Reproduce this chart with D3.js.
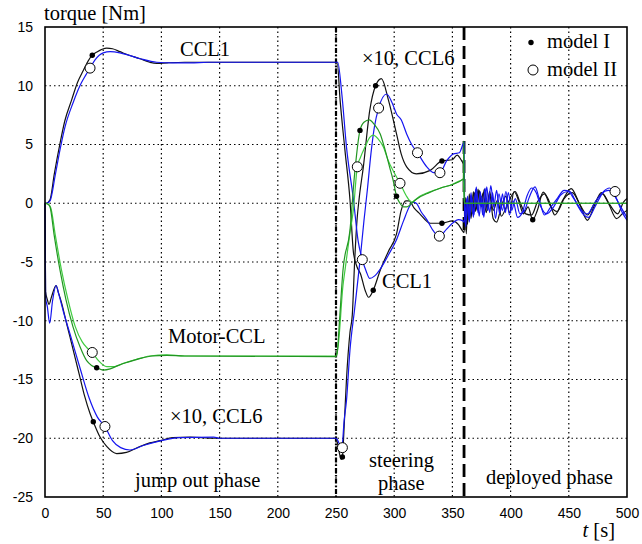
<!DOCTYPE html>
<html>
<head>
<meta charset="utf-8">
<script src="https://cdn.jsdelivr.net/npm/d3@7"></script>
<style>
  body { margin: 0; background: #fff; }
  .tick text { font-family: "Liberation Sans", Arial, sans-serif; font-size: 14px; fill: #000; }
  .lbl { font-family: "Liberation Serif", "Times New Roman", serif; font-size: 20.5px; fill: #000; }
</style>
</head>
<body>
<svg id="chart" width="642" height="544"></svg>
<script>
// tijd-as en koppel-as
const xTicks = [0, 50, 100, 150, 200, 250, 300, 350, 400, 450, 500];
const yTicks = [-25, -20, -15, -10, -5, 0, 5, 10, 15];
const phaseLines = [250, 360]; // overgang jump out -> steering -> deployed

// CCL1, model I (zwart) en model II (blauw)
const ccl1I = [[0,0],[1,0],[4.3,0.3],[8,2.5],[12.9,5.1],[17,7],[22.9,8.8],[28,10.3],[32.9,11.3],[37,12.1],[40.6,12.6],[45,12.9],[53,13.2],[58,13.15],[64.4,12.9],[72,12.6],[81.6,12.3],[90,12.0],[96,11.9],[105,11.95],[120,12.0],[250,12.0],
  [251,12],[253.5,8.8],[257.7,4.5],[262,0.3],[265,-4.2],[268,-5.4],[271,-6.0],[275,-7.4],[278,-8.0],[282,-7.4],[288,-5.7],[295,-4.1],[302,-2.6],[306,-0.6],[310,0.2],[313,0.2],[317,-0.4],[322,-0.9],[331,-1.7],[341,-1.7],[350,-1.5],[355,-1.8],[359,-2.4],
  [360,-2.5],[361,-1.0],[362,-2.6],[363,0.3],[364.5,-1.2],[366,0.6],[367.5,-0.9],[369,0.9],[371,-0.5],[373,1.1],[375,-0.3],[377.5,1.2],[380,-0.6],[382,0.8],[385,-1.3],[388,-1.6],[392,-0.3],[396,0.6],[399,-0.8],[403,1.0],[407,0.2],[411,-0.9],[415,-0.3],[419,-1.4],[423,-0.6],[428,0.95],[433,0.2],[438,-1.0],[445,0.3],[452,1.25],[459,0.0],[466,-1.45],[472,-0.2],[478,0.9],[484,0.0],[491,-1.3],[496,-0.9],[500,-0.6]];
const ccl1II = [[0,0],[1.5,0],[4.3,0.2],[9,2.5],[13,4.6],[17.2,6.5],[24.3,8.6],[30,10.0],[35,10.9],[38.7,11.5],[43,12.2],[50,12.8],[56,12.9],[64.4,12.8],[72,12.6],[82,12.3],[96,12.0],[110,11.95],[125,11.95],[140,12.0],[250,12.0],
  [251.5,12.0],[255,9.3],[259,4.8],[265,0.3],[269,-3.2],[272.6,-4.8],[276,-5.8],[279,-6.4],[283,-6.2],[288,-5.6],[295,-4.4],[302,-3.1],[308,-1.5],[313,-0.3],[316,0.1],[319,0.0],[323,-0.7],[328,-1.4],[334,-2.4],[339,-2.8],[345,-2.2],[350,-1.7],[355,-1.4],[359,-1.5],
  [360,-1.6],[361,-0.8],[362.5,0.4],[364,-1.4],[366,0.9],[368,-1.2],[370,1.2],[372,-0.8],[374,1.0],[376,-1.0],[378,1.3],[380.5,-0.6],[383,1.5],[385.5,-0.3],[388,1.1],[390.5,-0.9],[393,0.8],[395.5,-0.8],[398,0.9],[401,-0.6],[404,0.4],[408,-0.9],[412,-0.6],[416,0.5],[421,1.4],[425,0.2],[429,-1.0],[434,-0.4],[440,0.4],[446,1.1],[451,1.0],[457,-0.1],[463,-1.0],[467,-1.2],[473,-0.2],[480,1.0],[485,1.3],[490,0.6],[496,-0.8],[500,-1.45]];

// x10, CCL6
const ccl6I = [[0,0],[0.5,-7.5],[2,-8.2],[3.5,-8.6],[5.5,-8.0],[9.5,-7.0],[11.5,-7.6],[14.3,-8.5],[18,-10],[21.5,-11.4],[26,-13.2],[30,-14.8],[34,-16.4],[38.7,-17.9],[41.5,-18.6],[47.3,-19.9],[53,-20.7],[61.6,-21.3],[70,-21.2],[81.5,-20.7],[90,-20.4],[98.8,-20.2],[110,-19.95],[125,-19.9],[145,-20.0],[250,-20.0],
  [251,-20.3],[253,-21.3],[254.5,-21.8],[255.5,-21.6],[257,-19],[259,-15],[262,-11],[264,-9.5],[266,-5],[268,-1.5],[270,0.5],[273.5,3.1],[279,7.9],[284,10.0],[289,10.6],[295,8.8],[302,5.9],[306,4.2],[310.7,3.1],[319,2.5],[331,2.8],[341,3.6],[350,3.7],[354,4.1],[358,3.6],
  [360,3.2],[360.5,-2.0],[361.5,0.5],[363,-1.8],[364.5,0.8],[366,-1.3],[368,1.0],[370,-0.7],[372,1.2],[374,-0.2],[376.5,0.9],[379,-0.8],[382,1.0],[385,-0.6],[389,0.3],[392,-1.1],[396,-0.4],[400,0.5],[404,1.0],[408,0.1],[413,-0.9],[418,-1.0],[423,0.1],[429,0.8],[434,-0.2],[440,-0.7],[446,0.4],[453,0.9],[460,-0.2],[466,-1.0],[472,0.0],[479,0.8],[485,-0.1],[492,-0.9],[497,0.1],[500,0.4]];
const ccl6II = [[0,0],[0.5,-8],[2,-8.8],[4,-10.2],[6.5,-8.3],[9.5,-7.0],[12,-7.8],[16,-9.3],[22,-11.3],[30,-14.0],[38,-16.6],[45,-18.2],[51.5,-19.0],[58,-20.2],[65,-20.8],[73,-21.0],[85,-20.6],[100,-20.2],[115,-19.95],[145,-19.9],[150,-20],[250,-20],
  [251,-20.1],[253,-20.5],[255,-20.8],[257,-18.5],[259,-16.8],[262,-12.5],[266,-9],[270.6,-4.9],[274,-1.5],[277,1.2],[280,4.2],[283,6.5],[286.6,8.1],[293.5,9.3],[298,8.6],[302,7.6],[306,7.1],[310.7,5.9],[315,5],[320,4.3],[328,3.1],[334,2.6],[339.3,2.6],[345,3.6],[351,4.2],[356,4.3],[359,5.0],
  [360,5.2],[360.5,-0.5],[361.5,-2.0],[363,0.6],[364.5,-1.6],[366.5,0.5],[368.5,-1.0],[370.5,1.4],[373,-1.1],[375,0.6],[377,-1.2],[379.5,1.4],[382,-0.8],[384.5,0.9],[387,-1.3],[390,0.8],[393,-0.6],[396,1.0],[399,-1.0],[402,0.2],[406,-1.2],[410,-0.8],[414,0.6],[418,1.3],[422,0.9],[426,-0.3],[431,-0.9],[437,-0.3],[443,0.7],[449,1.0],[455,0.3],[461,-0.6],[466,-0.9],[472,0.0],[478,0.8],[484,1.1],[489,0.7],[494,-0.2],[500,-1.2]];

// Motor-CCL
const motorI = [[0,0],[3,-0.1],[4.3,-0.3],[8,-2.8],[12.9,-5.7],[18,-8.2],[24,-10.5],[30,-12.2],[35.8,-13.4],[40,-13.8],[44.4,-14.0],[50,-14.2],[56,-14.1],[63,-13.8],[72,-13.5],[82,-13.2],[92,-13.0],[104.5,-12.95],[120,-13.0],[250,-13.05],
  [251,-12.8],[253,-10],[256,-5.7],[262,-2.3],[266,2.5],[270.6,6.2],[274,6.9],[278.6,7.1],[283,6.7],[288,5.9],[292,4.6],[296,3.1],[299,2.0],[302,0.6],[305,0.0],[308,-0.3],[311,-0.3],[315,0.0],[320,0.4],[330,0.9],[340,1.3],[350,1.6],[359.4,2.1],[359.8,5.3],[360.3,0],[500,0]];
const motorII = [[0,0],[3,-0.1],[5,-0.4],[9,-2.8],[14,-5.6],[20,-8.3],[26,-10.5],[32,-11.8],[36,-12.3],[40.6,-12.7],[46,-13.4],[53,-13.9],[60,-13.9],[68,-13.6],[78,-13.3],[90,-13.0],[104.5,-12.9],[120,-13.0],[250,-13.0],
  [252,-12],[256,-7],[258,-5.5],[262,-2.5],[265,-0.5],[268.3,3.1],[271,3.9],[275,4.8],[279,5.6],[282,5.8],[286,5.5],[290.6,4.8],[295,3.6],[300,2.6],[305,1.7],[310,0.7],[315,0.1],[318,0.3],[322,0.6],[330,0.95],[340,1.3],[350,1.6],[359.4,2.0],[360.3,0],[500,0]];

// markers: model I (gevuld) en model II (open)
const markI = [[40.6,12.6],[44.4,-14.0],[41.5,-18.6],[255.5,-21.6],[270.6,6.2],[284,10.0],[302,0.6],[282,-7.4],[341,-1.7],[341,3.6],[419,-1.4]];
const markII = [[38.7,11.5],[40.6,-12.7],[51.5,-19.0],[255.5,-20.8],[268.3,3.1],[286.6,8.1],[272.6,-4.8],[305,1.7],[320,4.3],[338.8,-2.8],[339.3,2.6],[489.7,1.0]];

const margin = { top: 27, left: 45, right: 15, bottom: 47 };
const width = 642 - margin.left - margin.right;
const height = 544 - margin.top - margin.bottom;

const svg = d3.select('#chart');
const g = svg.append('g').attr('transform', `translate(${margin.left},${margin.top})`);

const x = d3.scaleLinear().domain([0, 500]).range([0, width]);
const y = d3.scaleLinear().domain([-25, 15]).range([height, 0]);

// grid (gestippeld)
g.append('g').selectAll('line').data(xTicks.slice(1, -1)).join('line')
  .attr('x1', d => x(d)).attr('x2', d => x(d)).attr('y1', 0).attr('y2', height)
  .attr('stroke', '#000').attr('stroke-width', 1.2).attr('stroke-dasharray', '1.5,3');
g.append('g').selectAll('line').data(yTicks.slice(1, -1)).join('line')
  .attr('y1', d => y(d)).attr('y2', d => y(d)).attr('x1', 0).attr('x2', width)
  .attr('stroke', '#000').attr('stroke-width', 1.2).attr('stroke-dasharray', '1.5,3');

// fase-lijnen
g.append('line').attr('x1', x(phaseLines[0])).attr('x2', x(phaseLines[0])).attr('y1', 0).attr('y2', height)
  .attr('stroke', '#000').attr('stroke-width', 2.2).attr('stroke-dasharray', '5,2,1.5,2');
g.append('line').attr('x1', x(phaseLines[1])).attr('x2', x(phaseLines[1])).attr('y1', 0).attr('y2', height)
  .attr('stroke', '#000').attr('stroke-width', 2.8).attr('stroke-dasharray', '13,6');

// curves
const line = d3.line().x(d => x(d[0])).y(d => y(d[1])).curve(d3.curveMonotoneX);
const series = [
  { data: ccl1I, color: '#111' }, { data: ccl6I, color: '#111' },
  { data: ccl1II, color: '#1515f0' }, { data: ccl6II, color: '#1515f0' },
  { data: motorII, color: '#40cc40' }, { data: motorI, color: '#229622' }
];
g.append('g').selectAll('path').data(series).join('path')
  .attr('d', d => line(d.data)).attr('fill', 'none')
  .attr('stroke', d => d.color).attr('stroke-width', 1.2);

// markers
g.append('g').selectAll('circle').data(markII).join('circle')
  .attr('cx', d => x(d[0])).attr('cy', d => y(d[1])).attr('r', 5)
  .attr('fill', '#fff').attr('stroke', '#000').attr('stroke-width', 1);
g.append('g').selectAll('circle').data(markI).join('circle')
  .attr('cx', d => x(d[0])).attr('cy', d => y(d[1])).attr('r', 2.7).attr('fill', '#000');

// assen
g.append('g').attr('transform', `translate(0,${height})`)
  .call(d3.axisBottom(x).tickValues(xTicks).tickSize(0).tickPadding(11).tickFormat(d => String(d)))
  .call(a => a.select('.domain').remove());
g.append('g')
  .call(d3.axisLeft(y).tickValues(yTicks).tickSize(0).tickPadding(12).tickFormat(d => String(d)))
  .call(a => a.select('.domain').remove());
g.append('rect').attr('width', width).attr('height', height)
  .attr('fill', 'none').attr('stroke', '#000').attr('stroke-width', 1.6);

// teksten
const labels = [
  { t: 'torque [Nm]', x: 44, y: 20 },
  { t: 'CCL1', x: 180, y: 56 },
  { t: '×10, CCL6', x: 362, y: 65 },
  { t: 'Motor-CCL', x: 168, y: 343 },
  { t: '×10, CCL6', x: 170, y: 423 },
  { t: 'CCL1', x: 382, y: 288 },
  { t: 'jump out phase', x: 135, y: 487 },
  { t: 'steering', x: 369, y: 467 },
  { t: 'phase', x: 378, y: 490 },
  { t: 'deployed phase', x: 486, y: 484 },
  { t: 'model I', x: 547, y: 48 },
  { t: 'model II', x: 547, y: 76 }
];
svg.append('g').selectAll('text').data(labels).join('text')
  .attr('class', 'lbl').attr('x', d => d.x).attr('y', d => d.y).text(d => d.t);

const tl = svg.append('text').attr('class', 'lbl').attr('x', 615).attr('y', 537).attr('text-anchor', 'end');
tl.append('tspan').attr('font-style', 'italic').text('t');
tl.append('tspan').text(' [s]');

svg.append('circle').attr('cx', 531).attr('cy', 42.5).attr('r', 2.7).attr('fill', '#000');
svg.append('circle').attr('cx', 533).attr('cy', 70).attr('r', 5).attr('fill', '#fff').attr('stroke', '#000');
</script>
</body>
</html>
